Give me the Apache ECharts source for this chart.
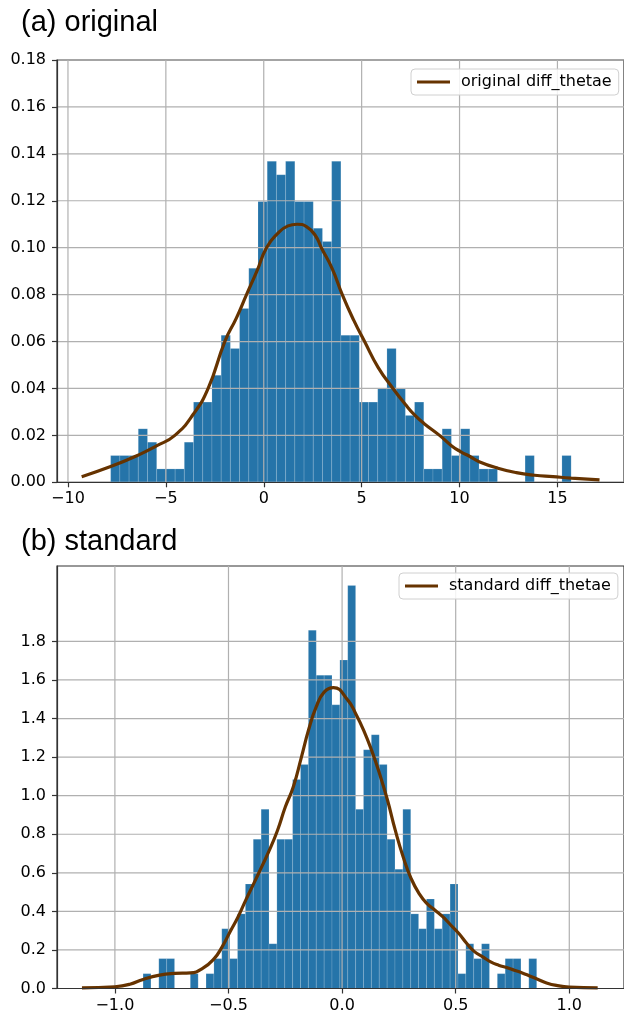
<!DOCTYPE html>
<html>
<head>
<meta charset="utf-8">
<script src="https://cdn.jsdelivr.net/npm/echarts@6/dist/echarts.min.js"></script>
<style>
html, body { margin: 0; padding: 0; background: #fff; }
#chart { width: 624px; height: 1015px; }
</style>
</head>
<body>
<div id="chart"></div>
<script>
// (a) original
var origXTicks = [-10, -5, 0, 5, 10, 15];
var origYTicks = [0, 0.02, 0.04, 0.06, 0.08, 0.10, 0.12, 0.14, 0.16, 0.18];
var origBinStart = -7.82;
var origBinWidth = 0.4704;
var origDensity = [
    0.0114, 0.0114, 0.0114, 0.0228, 0.0171, 0.0057, 0.0057, 0.0057, 0.0171, 0.0342,
    0.0342, 0.0456, 0.0627, 0.057, 0.0741, 0.0912, 0.1197, 0.1368, 0.1311, 0.1368,
    0.1197, 0.1197, 0.1083, 0.1026, 0.1368, 0.0627, 0.0627, 0.0342, 0.0342, 0.0399,
    0.057, 0.0399, 0.0285, 0.0342, 0.0057, 0.0057, 0.0228, 0.0114, 0.0228, 0.0114,
    0.0057, 0.0057, 0, 0, 0, 0.0114, 0, 0, 0, 0.0114
];
var origKdeX = [-9.3, -7.82, -6.41, -5.48, -4.54, -3.6, -2.84, -1.99, -1.4, -0.88,
    -0.35, 0.14, 0.7, 1.24, 1.7, 2.18, 2.65, 2.94, 3.5, 4.01,
    4.6, 5.15, 5.84, 6.6, 7.26, 7.7, 8.18, 8.98, 9.6, 10.07,
    10.55, 11.0, 11.96, 12.9, 13.83, 14.77, 15.7, 17.15];
var origKdeY = [0.0024, 0.0067, 0.0116, 0.0155, 0.02, 0.029, 0.04, 0.06, 0.07, 0.08,
    0.09, 0.10, 0.106, 0.1093, 0.110, 0.109, 0.105, 0.10, 0.091, 0.08,
    0.069, 0.06, 0.049, 0.04, 0.0329, 0.0287, 0.0251, 0.02, 0.0155, 0.013,
    0.0109, 0.0088, 0.006, 0.0041, 0.003, 0.0024, 0.0018, 0.001];

// (b) standard
var stdXTicks = [-1.0, -0.5, 0, 0.5, 1.0];
var stdYTicks = [0, 0.2, 0.4, 0.6, 0.8, 1.0, 1.2, 1.4, 1.6, 1.8];
var stdBinStart = -0.876;
var stdBinWidth = 0.03465;
var stdDensity = [
    0.077, 0, 0.155, 0.155, 0, 0, 0.077, 0, 0.077, 0.155,
    0.31, 0.155, 0.387, 0.542, 0.774, 0.929, 0.232, 0.774, 0.774, 1.084,
    1.161, 1.858, 1.625, 1.625, 1.471, 1.703, 2.09, 0.929, 1.238, 1.316,
    1.161, 0.774, 0.619, 0.929, 0.387, 0.31, 0.464, 0.31, 0.387, 0.542,
    0.077, 0.232, 0.155, 0.232, 0, 0.077, 0.155, 0.155, 0, 0.155
];
var stdKdeX = [-1.145, -1.0, -0.934, -0.876, -0.803, -0.738, -0.668, -0.614, -0.563, -0.528,
    -0.493, -0.458, -0.424, -0.389, -0.354, -0.32, -0.284, -0.25, -0.215, -0.179,
    -0.148, -0.114, -0.079, -0.038, 0.026, 0.06, 0.095, 0.13, 0.165, 0.2,
    0.234, 0.269, 0.304, 0.339, 0.374, 0.409, 0.444, 0.479, 0.514, 0.549,
    0.584, 0.619, 0.654, 0.689, 0.724, 0.758, 0.793, 0.828, 0.863, 0.9,
    0.943, 1.0, 1.125];
var stdKdeY = [0.003, 0.009, 0.022, 0.047, 0.069, 0.078, 0.081, 0.104, 0.155, 0.216,
    0.294, 0.371, 0.458, 0.544, 0.631, 0.717, 0.821, 0.941, 1.045, 1.2,
    1.339, 1.46, 1.537, 1.56, 1.494, 1.425, 1.339, 1.235, 1.114, 0.976,
    0.821, 0.682, 0.57, 0.492, 0.44, 0.406, 0.371, 0.328, 0.285, 0.233,
    0.19, 0.164, 0.138, 0.121, 0.109, 0.095, 0.081, 0.064, 0.047, 0.029,
    0.016, 0.007, 0.003];

var BAR_COLOR = '#2574a9';
var KDE_COLOR = '#663300';
var GRID_COLOR = '#b0b0b0';
var SPINE_COLOR = '#333333';
var TICK_FONT = 'DejaVu Sans';

function toBars(start, width, heights) {
    var out = [];
    for (var i = 0; i < heights.length; i++) {
        out.push([start + i * width, start + (i + 1) * width, heights[i]]);
    }
    return out;
}

function toPairs(xs, ys) {
    var out = [];
    for (var i = 0; i < xs.length; i++) {
        out.push([xs[i], ys[i]]);
    }
    return out;
}

// grid lines: [x, y, 0] horizontal, [x, y, 1] vertical
function toGridLines(xTicks, yTicks) {
    var out = [];
    yTicks.forEach(function (v) { out.push([xTicks[0], v, 0]); });
    xTicks.forEach(function (v) { out.push([v, yTicks[0], 1]); });
    return out;
}

function fmt(digits) {
    return function (v) {
        return Number(v).toFixed(digits).replace('-', '\u2212');
    };
}

function renderBar(params, api) {
    var h = api.value(2);
    if (!h) return;
    var p0 = api.coord([api.value(0), h]);
    var p1 = api.coord([api.value(1), 0]);
    return {
        type: 'rect',
        shape: {x: p0[0], y: p0[1], width: p1[0] - p0[0], height: p1[1] - p0[1]},
        style: {fill: BAR_COLOR, stroke: 'rgba(255,255,255,0.18)', lineWidth: 0.8}
    };
}

function renderGridLine(params, api) {
    var cs = params.coordSys;
    var p = api.coord([api.value(0), api.value(1)]);
    var shape = api.value(2) === 0
        ? {x1: cs.x, y1: p[1], x2: cs.x + cs.width, y2: p[1]}
        : {x1: p[0], y1: cs.y, x2: p[0], y2: cs.y + cs.height};
    return {type: 'line', shape: shape, style: {stroke: GRID_COLOR, lineWidth: 1.2}};
}

function xAxisOf(idx, min, max, ticks, digits) {
    return {
        gridIndex: idx, type: 'value', min: min, max: max, z: 10,
        axisLine: {show: true, onZero: false, lineStyle: {color: SPINE_COLOR, width: 1.2}},
        axisTick: {show: true, customValues: ticks, length: 5, lineStyle: {color: SPINE_COLOR, width: 1.2}},
        axisLabel: {customValues: ticks, formatter: fmt(digits), margin: 9, color: '#000',
            fontSize: 16, fontFamily: TICK_FONT},
        splitLine: {show: false}
    };
}

function yAxisOf(idx, min, max, ticks, digits) {
    return {
        gridIndex: idx, type: 'value', min: min, max: max, z: 10,
        axisLine: {show: true, onZero: false, lineStyle: {color: SPINE_COLOR, width: 1.2}},
        axisTick: {show: true, customValues: ticks, length: 5, lineStyle: {color: SPINE_COLOR, width: 1.2}},
        axisLabel: {customValues: ticks, formatter: fmt(digits), margin: 11, color: '#000',
            fontSize: 16, fontFamily: TICK_FONT},
        splitLine: {show: false}
    };
}

function legendOf(name, left, top) {
    return {
        data: [{name: name, icon: 'rect'}],
        left: left, top: top,
        itemWidth: 33, itemHeight: 3,
        padding: [5, 7, 5, 6],
        backgroundColor: 'rgba(255,255,255,0.85)',
        borderColor: '#d0d0d0', borderWidth: 1, borderRadius: 4,
        textStyle: {fontFamily: TICK_FONT, fontSize: 16, color: '#000', padding: [0, 0, 0, 6]}
    };
}

var titleStyle = {fontFamily: 'Liberation Sans', fontSize: 29, fontWeight: 'normal', color: '#000'};

var option = {
    animation: false,
    backgroundColor: '#fff',
    title: [
        {text: '(a) original', left: 21, top: 8, padding: 0, textStyle: titleStyle},
        {text: '(b) standard', left: 21, top: 527, padding: 0, textStyle: titleStyle}
    ],
    legend: [
        legendOf('original diff_thetae', 411, 69),
        legendOf('standard diff_thetae', 399, 573)
    ],
    grid: [
        {left: 57, top: 60, width: 569, height: 422.3, show: true, borderColor: SPINE_COLOR, borderWidth: 1.2},
        {left: 57, top: 566, width: 571, height: 422.5, show: true, borderColor: SPINE_COLOR, borderWidth: 1.2}
    ],
    xAxis: [
        xAxisOf(0, -10.56, 18.4, origXTicks, 0),
        xAxisOf(1, -1.2548, 1.2408, stdXTicks, 1)
    ],
    yAxis: [
        yAxisOf(0, 0, 0.18, origYTicks, 2),
        yAxisOf(1, 0, 2.191, stdYTicks, 1)
    ],
    series: [
        {
            type: 'custom', xAxisIndex: 0, yAxisIndex: 0, z: 2, silent: true,
            renderItem: renderBar, encode: {x: [0, 1], y: 2},
            data: toBars(origBinStart, origBinWidth, origDensity)
        },
        {
            type: 'custom', xAxisIndex: 0, yAxisIndex: 0, z: 3, silent: true,
            renderItem: renderGridLine, encode: {x: 0, y: 1},
            data: toGridLines(origXTicks, origYTicks)
        },
        {
            name: 'original diff_thetae', type: 'line', xAxisIndex: 0, yAxisIndex: 0, z: 4,
            showSymbol: false, smooth: 0.5,
            lineStyle: {color: KDE_COLOR, width: 3.2}, itemStyle: {color: KDE_COLOR},
            data: toPairs(origKdeX, origKdeY)
        },
        {
            type: 'custom', xAxisIndex: 1, yAxisIndex: 1, z: 2, silent: true,
            renderItem: renderBar, encode: {x: [0, 1], y: 2},
            data: toBars(stdBinStart, stdBinWidth, stdDensity)
        },
        {
            type: 'custom', xAxisIndex: 1, yAxisIndex: 1, z: 3, silent: true,
            renderItem: renderGridLine, encode: {x: 0, y: 1},
            data: toGridLines(stdXTicks, stdYTicks)
        },
        {
            name: 'standard diff_thetae', type: 'line', xAxisIndex: 1, yAxisIndex: 1, z: 4,
            showSymbol: false, smooth: 0.5,
            lineStyle: {color: KDE_COLOR, width: 3.2}, itemStyle: {color: KDE_COLOR},
            data: toPairs(stdKdeX, stdKdeY)
        }
    ]
};

var myChart = echarts.init(document.getElementById('chart'), null, {renderer: 'canvas'});
myChart.setOption(option);
</script>
</body>
</html>
